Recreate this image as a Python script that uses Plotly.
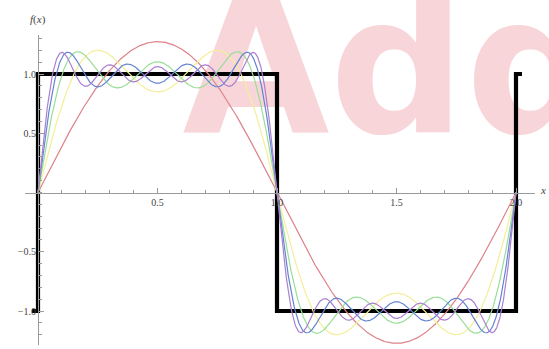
import numpy as np
import plotly.graph_objects as go

W, H = 549, 349

# ---- data ----
# square wave f(x) on [0, 2]
square_x = [-0.025, 0, 0, 1, 1, 2, 2, 2.025]
square_y = [-1, -1, 1, 1, -1, -1, 1, 1]

# Fourier partial sums: odd harmonics and their coefficients 4/(k*pi)
harmonics = [1, 3, 5, 7, 9]
coefficients = [1.2732, 0.4244, 0.2546, 0.1819, 0.1415]
partial_sum_terms = [1, 2, 3, 4, 5]
curve_colors = ["#de8289", "#f3ee98", "#98de98", "#6483d2", "#ab7fd0"]

x_tickvals = [0.5, 1.0, 1.5, 2.0]
x_ticktext = ["0.5", "1.0", "1.5", "2.0"]
y_tickvals = [-1.0, -0.5, 0.5, 1.0]
y_ticktext = ["\u22121.0", "\u22120.5", "0.5", "1.0"]

# ---- pixel layout helpers ----
X0_PX, PX_PER_X = 38, 239.0
Y0_PX, PX_PER_Y = 192.5, 118.5


def dx(px):
    return (px - X0_PX) / PX_PER_X


def dy(py):
    return (Y0_PX - py) / PX_PER_Y


xs = np.linspace(0, 2, 1201)

fig = go.Figure()

# watermark (below everything)
fig.add_trace(go.Scatter(
    x=[dx(392)], y=[dy(84)], mode="text", text=["Add"],
    textposition="middle center",
    textfont=dict(family="DejaVu Sans", size=190, color="#f8d5d9", weight="bold"),
    cliponaxis=False, hoverinfo="skip", showlegend=False))

fig.add_trace(go.Scatter(
    x=square_x, y=square_y, mode="lines",
    line=dict(color="black", width=4.2), hoverinfo="skip", showlegend=False))

for n, col in zip(partial_sum_terms, curve_colors):
    ys = np.zeros_like(xs)
    for k, c in zip(harmonics[:n], coefficients[:n]):
        ys += c * np.sin(k * np.pi * xs)
    fig.add_trace(go.Scatter(
        x=xs, y=ys, mode="lines", line=dict(color=col, width=1.2),
        hoverinfo="skip", showlegend=False))

axis_col = "#9a9a9a"
tickfont = dict(family="Liberation Serif", size=10, color="#444")

fig.update_layout(
    width=W, height=H,
    margin=dict(l=0, r=0, t=0, b=0),
    paper_bgcolor="white", plot_bgcolor="rgba(0,0,0,0)",
    xaxis=dict(
        domain=[25 / W, 535 / W], range=[dx(25), dx(535)],
        anchor="free", position=(H - Y0_PX) / H,
        showline=True, linecolor=axis_col, linewidth=1,
        ticks="inside", ticklen=5, tickcolor=axis_col,
        tickvals=x_tickvals, ticktext=x_ticktext, tickfont=tickfont,
        minor=dict(ticks="inside", ticklen=3, dtick=0.1, tick0=0, tickcolor=axis_col),
        showgrid=False, zeroline=False, automargin=False, fixedrange=True),
    yaxis=dict(
        domain=[(H - 345) / H, (H - 35) / H], range=[dy(345), dy(35)],
        anchor="free", position=X0_PX / W,
        showline=True, linecolor=axis_col, linewidth=1,
        ticks="inside", ticklen=5, tickcolor=axis_col,
        tickvals=y_tickvals, ticktext=y_ticktext, tickfont=tickfont,
        minor=dict(ticks="inside", ticklen=3, dtick=0.1, tick0=0, tickcolor=axis_col),
        showgrid=False, zeroline=False, automargin=False, fixedrange=True),
    annotations=[
        dict(text="<i>f</i>(<i>x</i>)", x=38 / W, y=(H - 19) / H, xref="paper", yref="paper",
             showarrow=False, font=dict(family="Liberation Serif", size=11, color="#444"),
             xanchor="center", yanchor="middle"),
        dict(text="<i>x</i>", x=543 / W, y=(H - 190) / H, xref="paper", yref="paper",
             showarrow=False, font=dict(family="Liberation Serif", size=11, color="#444"),
             xanchor="center", yanchor="middle"),
    ],
)

fig.write_html("out.html", config={"displayModeBar": False},
               post_script="document.body.style.margin='0';document.body.style.overflow='hidden';")
